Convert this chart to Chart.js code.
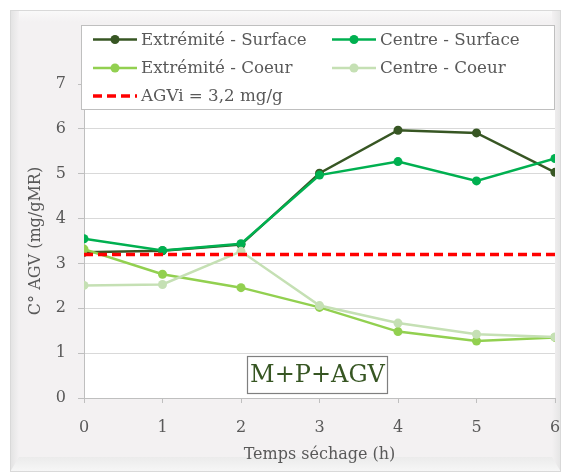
<!DOCTYPE html>
<html><head><meta charset="utf-8">
<script src="https://cdn.jsdelivr.net/npm/chart.js@4"></script>
<style>html,body{margin:0;padding:0;background:#fff}#wrap{width:563px;height:476px}</style>
</head><body><div id="wrap"><canvas id="c" width="563" height="476"></canvas></div>
<script>
const hours = [0, 1, 2, 3, 4, 5, 6];
const extremiteSurface = [3.25, 3.28, 3.42, 5.01, 5.97, 5.91, 5.03];
const centreSurface = [3.55, 3.29, 3.44, 4.97, 5.27, 4.84, 5.34];
const extremiteCoeur = [3.32, 2.76, 2.46, 2.02, 1.48, 1.27, 1.35];
const centreCoeur = [2.51, 2.53, 3.27, 2.06, 1.67, 1.42, 1.36];
const agvi = [3.2, 3.2, 3.2, 3.2, 3.2, 3.2, 3.2];
const seriesNames = ['Extrémité - Surface', 'Centre - Surface', 'Extrémité - Coeur', 'Centre - Coeur', 'AGVi = 3,2 mg/g'];
const yTicks = [0, 1, 2, 3, 4, 5, 6, 7];
const FONT = '"DejaVu Serif", serif';
const colors = ['#375623', '#00b050', '#92d050', '#c5e0b4', '#ff0000'];

const pts = arr => arr.map((v, i) => ({x: hours[i], y: v}));
function lineDs(label, data, color, order) {
  return {label, data: pts(data), borderColor: color, backgroundColor: color,
    borderWidth: 2.5, pointRadius: 4.5, pointHoverRadius: 4.5, pointBorderWidth: 0,
    tension: 0, order};
}
const datasets = [
  lineDs(seriesNames[0], extremiteSurface, colors[0], 5),
  lineDs(seriesNames[1], centreSurface, colors[1], 4),
  lineDs(seriesNames[2], extremiteCoeur, colors[2], 3),
  lineDs(seriesNames[3], centreCoeur, colors[3], 2),
  {label: seriesNames[4], data: pts(agvi), borderColor: colors[4], backgroundColor: colors[4],
   borderWidth: 3.5, borderDash: [9, 5], pointRadius: 0, order: 1}
];

const framePlugin = {
  id: 'frame',
  beforeDraw(chart) {
    const ctx = chart.ctx;
    ctx.save();
    ctx.fillStyle = '#ffffff';
    ctx.fillRect(0, 0, 563, 476);
    ctx.fillStyle = '#f3f1f2';
    ctx.fillRect(10, 10, 551, 462);
    let g = ctx.createLinearGradient(10, 0, 19, 0);
    g.addColorStop(0, '#e2e2e2'); g.addColorStop(1, '#f3f1f2');
    ctx.fillStyle = g; ctx.fillRect(10, 10, 9, 462);
    g = ctx.createLinearGradient(552, 0, 561, 0);
    g.addColorStop(0, '#f3f1f2'); g.addColorStop(1, '#e4e4e4');
    ctx.fillStyle = g; ctx.fillRect(552, 10, 9, 462);
    g = ctx.createLinearGradient(0, 457, 0, 472);
    g.addColorStop(0, '#ebebeb'); g.addColorStop(1, '#f7f7f7');
    ctx.fillStyle = g;
    ctx.beginPath(); ctx.moveTo(19, 457); ctx.lineTo(552, 457); ctx.lineTo(561, 472); ctx.lineTo(10, 472); ctx.closePath(); ctx.fill();
    g = ctx.createLinearGradient(0, 10, 0, 22);
    g.addColorStop(0, '#fafafa'); g.addColorStop(1, '#f3f1f2');
    ctx.fillStyle = g; ctx.fillRect(19, 10, 533, 12);
    ctx.strokeStyle = '#d9d9d9'; ctx.lineWidth = 1;
    ctx.strokeRect(10.5, 10.5, 550, 461);
    const a = chart.chartArea;
    ctx.fillStyle = '#ffffff';
    ctx.fillRect(a.left, a.top, a.right - a.left, a.bottom - a.top);
    ctx.restore();
  },
  afterDraw(chart) {
    const ctx = chart.ctx;
    ctx.save();
    // legend box
    ctx.fillStyle = '#ffffff';
    ctx.fillRect(81, 25, 473, 84);
    ctx.strokeStyle = '#bfbfbf'; ctx.lineWidth = 1;
    ctx.strokeRect(81.5, 25.5, 473, 84);
    const items = [
      {i: 0, x: 93, y: 39.5}, {i: 1, x: 332, y: 39.5},
      {i: 2, x: 93, y: 68}, {i: 3, x: 332, y: 68},
      {i: 4, x: 93, y: 96}
    ];
    ctx.font = '16.7px ' + FONT;
    ctx.textBaseline = 'middle';
    items.forEach(it => {
      const ds = chart.data.datasets[it.i];
      ctx.strokeStyle = ds.borderColor;
      ctx.lineWidth = ds.borderWidth;
      ctx.setLineDash(ds.borderDash || []);
      ctx.beginPath(); ctx.moveTo(it.x, it.y); ctx.lineTo(it.x + 44, it.y); ctx.stroke();
      ctx.setLineDash([]);
      if (ds.pointRadius > 0) {
        ctx.fillStyle = ds.borderColor;
        ctx.beginPath(); ctx.arc(it.x + 22, it.y, 4.5, 0, Math.PI * 2); ctx.fill();
      }
      ctx.fillStyle = '#595959';
      ctx.fillText(ds.label, it.x + 48, it.y + 1);
    });
    // annotation box
    ctx.fillStyle = '#ffffff';
    ctx.fillRect(247, 356, 140, 37);
    ctx.strokeStyle = '#7f7f7f'; ctx.lineWidth = 1.2;
    ctx.strokeRect(247.5, 356.5, 140, 37);
    ctx.fillStyle = '#375623';
    ctx.font = '24px ' + FONT;
    ctx.textAlign = 'center';
    ctx.fillText('M+P+AGV', 317.5, 376);
    ctx.restore();
  }
};

new Chart(document.getElementById('c'), {
  type: 'line',
  data: {datasets},
  options: {
    responsive: false, animation: false,
    layout: {padding: {left: 18, right: 8, top: 84, bottom: 12}},
    plugins: {legend: {display: false}, tooltip: {enabled: false}},
    scales: {
      x: {
        type: 'linear', min: 0, max: 6,
        afterFit: s => { s.height = 476 - 12 - 398; s.paddingLeft = 0; s.paddingRight = 0; },
        ticks: {stepSize: 1, color: '#595959', font: {family: FONT, size: 16}, padding: 15},
        grid: {drawOnChartArea: false, drawTicks: true, tickLength: 5, color: '#bfbfbf'},
        border: {color: '#bfbfbf', width: 1},
        title: {display: true, text: 'Temps séchage (h)', color: '#595959', font: {family: FONT, size: 16}, padding: 0}
      },
      y: {
        min: 0, max: 7,
        afterFit: s => { s.width = 84 - 18; },
        afterBuildTicks: s => { s.ticks = yTicks.map(v => ({value: v})); },
        ticks: {color: '#595959', font: {family: FONT, size: 16}, padding: 12},
        grid: {color: '#d9d9d9', tickColor: '#bfbfbf', tickLength: 6},
        border: {color: '#bfbfbf', width: 1},
        title: {display: true, text: 'C° AGV (mg/gMR)', color: '#595959', font: {family: FONT, size: 16}, padding: {top: 8, bottom: 0}}
      }
    }
  },
  plugins: [framePlugin]
});
</script>
</body></html>
